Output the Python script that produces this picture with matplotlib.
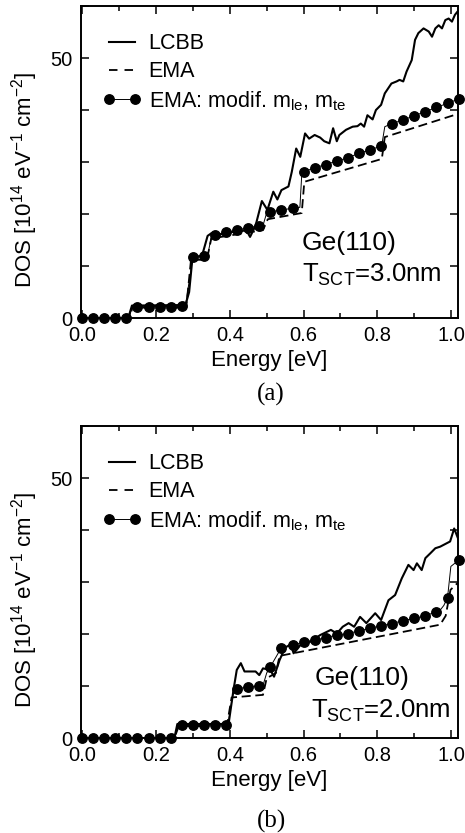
import numpy as np
import matplotlib
matplotlib.use('Agg')
import matplotlib.pyplot as plt
from matplotlib.ticker import MultipleLocator, FuncFormatter
from matplotlib.lines import Line2D
from matplotlib.legend_handler import HandlerLine2D

plt.rcParams['font.family'] = ['Liberation Sans', 'DejaVu Sans']
plt.rcParams['mathtext.fontset'] = 'custom'
plt.rcParams['mathtext.rm'] = 'Liberation Sans'
plt.rcParams['mathtext.it'] = 'Liberation Sans:italic'
plt.rcParams['mathtext.bf'] = 'Liberation Sans:bold'

# ---- panel (a): Ge(110), T_SCT = 3.0 nm ----
lcbb_a_x = [0.0, 0.125, 0.135, 0.28, 0.29, 0.30, 0.31, 0.325, 0.34, 0.35, 0.37, 0.40,
            0.43, 0.445, 0.455, 0.47, 0.487, 0.502, 0.518, 0.529, 0.54, 0.559, 0.568,
            0.58, 0.591, 0.604, 0.615, 0.63, 0.645, 0.656, 0.67, 0.68, 0.69, 0.697,
            0.715, 0.733, 0.746, 0.755, 0.764, 0.773, 0.787, 0.796, 0.81, 0.82, 0.838,
            0.852, 0.86, 0.87, 0.879, 0.893, 0.902, 0.911, 0.925, 0.939, 0.948, 0.957,
            0.966, 0.975, 0.984, 0.993, 1.002, 1.01, 1.02]
lcbb_a_y = [0, 0, 2.4, 2.5, 5.0, 12.3, 11.8, 12.0, 15.8, 16.3, 16.0, 16.5,
            16.7, 16.9, 15.6, 17.8, 22.5, 20.8, 24.3, 22.8, 24.6, 25.3, 28.1,
            32.6, 31.0, 35.5, 34.5, 35.2, 34.7, 34.0, 33.6, 36.5, 34.0, 35.2,
            36.2, 36.8, 36.9, 37.4, 36.8, 39.0, 38.2, 40.0, 41.0, 43.2, 45.1,
            45.5, 45.8, 45.5, 47.4, 49.6, 53.5, 54.8, 55.7, 55.1, 54.1, 55.7,
            56.3, 55.7, 57.3, 57.6, 57.0, 58.3, 59.2]

ema_a_x = [0, 0.13, 0.136, 0.282, 0.295, 0.338, 0.35, 0.49, 0.503, 0.595, 0.602, 0.812, 0.82, 1.02]
ema_a_y = [0, 0, 2.0, 2.0, 11.2, 11.2, 15.3, 16.9, 19.0, 20.2, 26.2, 30.6, 34.8, 39.3]

# modified-mass EMA, symbols every 0.03 eV
mod_a_x = [0.00, 0.03, 0.06, 0.09, 0.12, 0.15, 0.18, 0.21, 0.24, 0.27, 0.30, 0.33,
           0.36, 0.39, 0.42, 0.45, 0.48, 0.51, 0.54, 0.57, 0.60, 0.63, 0.66, 0.69,
           0.72, 0.75, 0.78, 0.81, 0.84, 0.87, 0.90, 0.93, 0.96, 0.99, 1.02]
mod_a_y = [0, 0, 0, 0, 0, 2.2, 2.2, 2.2, 2.2, 2.3, 11.8, 11.9,
           16.0, 16.5, 16.9, 17.4, 17.7, 20.4, 20.8, 21.1, 28.1, 28.9, 29.5, 30.2,
           30.8, 31.7, 32.3, 33.1, 37.4, 38.1, 38.9, 39.7, 40.5, 41.3, 42.1]
# step corners of the thin line between symbols
modc_a_x = [0.128, 0.135, 0.28, 0.34, 0.35, 0.49, 0.50, 0.59, 0.595, 0.812, 0.82]
modc_a_y = [0.0, 2.2, 2.3, 12.0, 15.6, 17.8, 20.2, 21.3, 27.5, 33.3, 36.8]

# ---- panel (b): Ge(110), T_SCT = 2.0 nm ----
lcbb_b_x = [0.0, 0.25, 0.258, 0.39, 0.397, 0.41, 0.419, 0.43, 0.44, 0.47, 0.48, 0.49,
            0.51, 0.52, 0.535, 0.55, 0.565, 0.573, 0.584, 0.598, 0.618, 0.645, 0.674,
            0.69, 0.706, 0.722, 0.737, 0.753, 0.77, 0.794, 0.81, 0.83, 0.848, 0.866,
            0.884, 0.898, 0.907, 0.92, 0.93, 0.943, 0.957, 0.97, 0.997, 1.008, 1.02]
lcbb_b_y = [0, 0, 2.7, 2.7, 2.8, 9.2, 13.1, 14.4, 12.8, 12.8, 12.1, 13.4,
            13.1, 11.8, 15.0, 17.4, 18.0, 16.3, 17.2, 18.5, 18.5, 19.8, 20.8,
            20.1, 21.4, 22.1, 21.4, 23.3, 22.1, 24.0, 22.7, 26.5, 27.5, 30.7,
            33.3, 32.3, 33.6, 32.3, 34.6, 35.5, 36.5, 36.8, 37.8, 40.3, 38.1]

ema_b_x = [0, 0.25, 0.262, 0.392, 0.405, 0.49, 0.50, 0.525, 0.535, 0.97, 0.985, 0.998, 1.02]
ema_b_y = [0, 0, 2.3, 2.3, 7.8, 8.3, 11.5, 12.5, 15.8, 21.8, 23.5, 28.5, 30.0]

mod_b_x = mod_a_x
mod_b_y = [0, 0, 0, 0, 0, 0, 0, 0, 0, 2.5, 2.5, 2.5,
           2.6, 2.6, 9.4, 9.9, 10.0, 13.7, 17.4, 17.8, 18.5, 18.8, 19.3, 19.8,
           20.1, 20.6, 21.1, 21.6, 22.0, 22.6, 23.0, 23.5, 24.3, 27.0, 34.2]
modc_b_x = [0.25, 0.26, 0.395, 0.41, 0.49, 0.50, 0.97, 0.98, 0.999]
modc_b_y = [0.0, 2.5, 2.6, 9.0, 10.1, 12.5, 24.6, 25.5, 33.0]

panels = [
    ('(a)', 'T$_{\\mathrm{SCT}}$=3.0nm', lcbb_a_x, lcbb_a_y, ema_a_x, ema_a_y,
     mod_a_x, mod_a_y, modc_a_x, modc_a_y, 0.6182, (0.596, 13.1), (0.596, 6.9), 394),
    ('(b)', 'T$_{\\mathrm{SCT}}$=2.0nm', lcbb_b_x, lcbb_b_y, ema_b_x, ema_b_y,
     mod_b_x, mod_b_y, modc_b_x, modc_b_y, 0.1140, (0.631, 10.2), (0.62, 3.85), 821),
]

fig = plt.figure(figsize=(4.65, 8.33), dpi=100)

for (tag, tlabel, lx, ly, ex, ey, mx, my, cx, cy, bottom, ge_pos, t_pos, tag_y) in panels:
    ax = fig.add_axes([81 / 465, bottom, 376.5 / 465, 312 / 833])

    # thin line through symbols and step corners
    lx2 = np.concatenate([mx, cx])
    ly2 = np.concatenate([my, cy])
    order = np.argsort(lx2, kind='stable')
    ax.plot(lx2[order], ly2[order], '-', color='k', lw=0.7)
    ax.plot(mx, my, 'o', color='k', ms=6.8, clip_on=False, zorder=4)

    ax.plot(ex, ey, color='k', lw=1.3, dashes=(5, 2.6))
    ax.plot(lx, ly, '-', color='k', lw=1.5)

    ax.set_xlim(-0.003, 1.017)
    ax.set_ylim(0, 60)
    ax.xaxis.set_major_locator(MultipleLocator(0.2))
    ax.xaxis.set_minor_locator(MultipleLocator(0.1))
    ax.xaxis.set_major_formatter(FuncFormatter(lambda v, p: '%.1f' % v))
    ax.yaxis.set_major_locator(MultipleLocator(10))
    ax.yaxis.set_major_formatter(FuncFormatter(lambda v, p: '%d' % v if round(v) in (0, 50) else ''))
    ax.tick_params(which='both', direction='in', top=True, right=True,
                   labelsize=14.5, width=1.1)
    ax.tick_params(which='major', length=6, pad=6)
    ax.tick_params(which='minor', length=3.5)
    for sp in ax.spines.values():
        sp.set_linewidth(1.4)

    ax.set_xlabel('Energy [eV]', fontsize=16, labelpad=3)
    ax.set_ylabel('DOS [10$^{14}$ eV$^{-1}$ cm$^{-2}$]', fontsize=16)
    ax.yaxis.label.set_va('center')
    ax.yaxis.set_label_coords(-0.149, 0.442)

    ax.text(ge_pos[0], ge_pos[1], 'Ge(110)', fontsize=19, va='baseline')
    ax.text(t_pos[0], t_pos[1], tlabel, fontsize=18.5, va='baseline')

    handles = [Line2D([], [], color='k', lw=1.5),
               Line2D([], [], color='k', lw=1.3, dashes=(4.7, 3.9)),
               Line2D([], [], color='k', lw=0.7, marker='o', ms=6.8)]
    names = ['LCBB', 'EMA', 'EMA: modif. m$_{\\mathrm{le}}$, m$_{\\mathrm{te}}$']
    ax.legend(handles, names, loc='upper left', bbox_to_anchor=(0.074, 0.913),
              frameon=False, fontsize=15.5, handlelength=1.2, handletextpad=0.65,
              labelspacing=0.32, borderpad=0, borderaxespad=0,
              handler_map={Line2D: HandlerLine2D(marker_pad=0, numpoints=2)})

    fig.text(271 / 465, 1 - tag_y / 833, tag, ha='center', va='center',
             fontsize=18, family='Liberation Serif')

fig.savefig('out.png', dpi=100)
